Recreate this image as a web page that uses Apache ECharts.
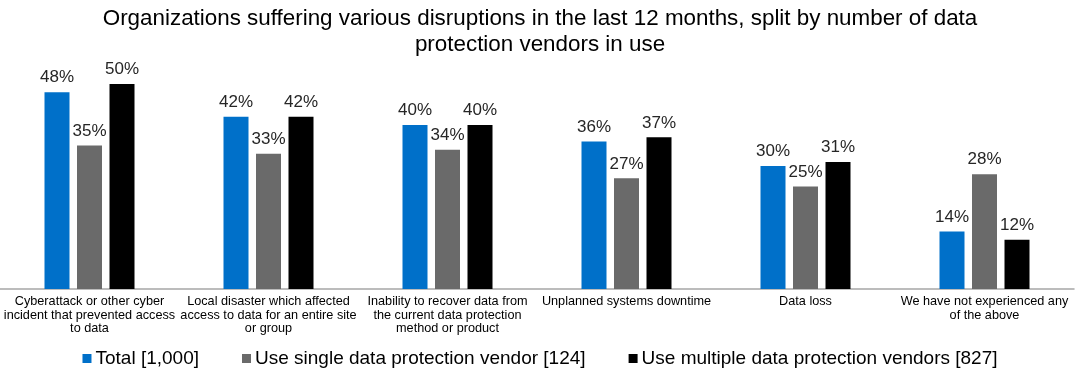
<!DOCTYPE html>
<html>
<head>
<meta charset="utf-8">
<script src="https://cdn.jsdelivr.net/npm/echarts@6/dist/echarts.min.js"></script>
<style>
html,body{margin:0;padding:0;background:#fff;}
#chart{width:1080px;height:373px;}
</style>
</head>
<body>
<div id="chart"></div>
<script>
var titleText = 'Organizations suffering various disruptions in the last 12 months, split by number of data\nprotection vendors in use';
var categories = [
  'Cyberattack or other cyber\nincident that prevented access\nto data',
  'Local disaster which affected\naccess to data for an entire site\nor group',
  'Inability to recover data from\nthe current data protection\nmethod or product',
  'Unplanned systems downtime',
  'Data loss',
  'We have not experienced any\nof the above'
];
var seriesNames = ['Total [1,000]', 'Use single data protection vendor [124]', 'Use multiple data protection vendors [827]'];
var totalValues = [48, 42, 40, 36, 30, 14];
var singleValues = [35, 33, 34, 27, 25, 28];
var multipleValues = [50, 42, 40, 37, 31, 12];
var colors = ['#0070C9', '#6A6A6A', '#000000'];

var FONT = '"Liberation Sans", Arial, sans-serif';
function mk(name, data, color) {
  return {
    name: name,
    type: 'bar',
    data: data,
    barWidth: 25,
    barGap: '30%',
    itemStyle: { color: color },
    label: {
      show: true,
      position: 'top',
      distance: 6,
      formatter: '{c}%',
      fontFamily: FONT,
      fontSize: 17,
      color: '#262626'
    }
  };
}
var chart = echarts.init(document.getElementById('chart'));
chart.setOption({
  animation: false,
  backgroundColor: '#ffffff',
  title: {
    text: titleText,
    left: 'center',
    top: 1,
    textStyle: { fontFamily: FONT, fontSize: 22.4, fontWeight: 'normal', color: '#000', lineHeight: 26 }
  },
  legend: {
    data: seriesNames,
    left: 'center',
    top: 344,
    icon: 'rect',
    itemWidth: 9,
    itemHeight: 9,
    itemGap: 43,
    textStyle: { fontFamily: FONT, fontSize: 19, color: '#000', padding: [0, 0, 0, -1] }
  },
  grid: { left: 0, right: 6, top: 41, bottom: 84, containLabel: false },
  xAxis: {
    type: 'category',
    data: categories,
    axisLine: { lineStyle: { color: '#A6A6A6', width: 1.5 } },
    axisTick: { show: false },
    axisLabel: { interval: 0, margin: 6, fontFamily: FONT, fontSize: 12.7, lineHeight: 13.5, color: '#000' }
  },
  yAxis: {
    type: 'value',
    min: 0,
    max: 60.5,
    show: false,
    splitLine: { show: false }
  },
  series: [
    mk(seriesNames[0], totalValues, colors[0]),
    mk(seriesNames[1], singleValues, colors[1]),
    mk(seriesNames[2], multipleValues, colors[2])
  ]
});
</script>
</body>
</html>
